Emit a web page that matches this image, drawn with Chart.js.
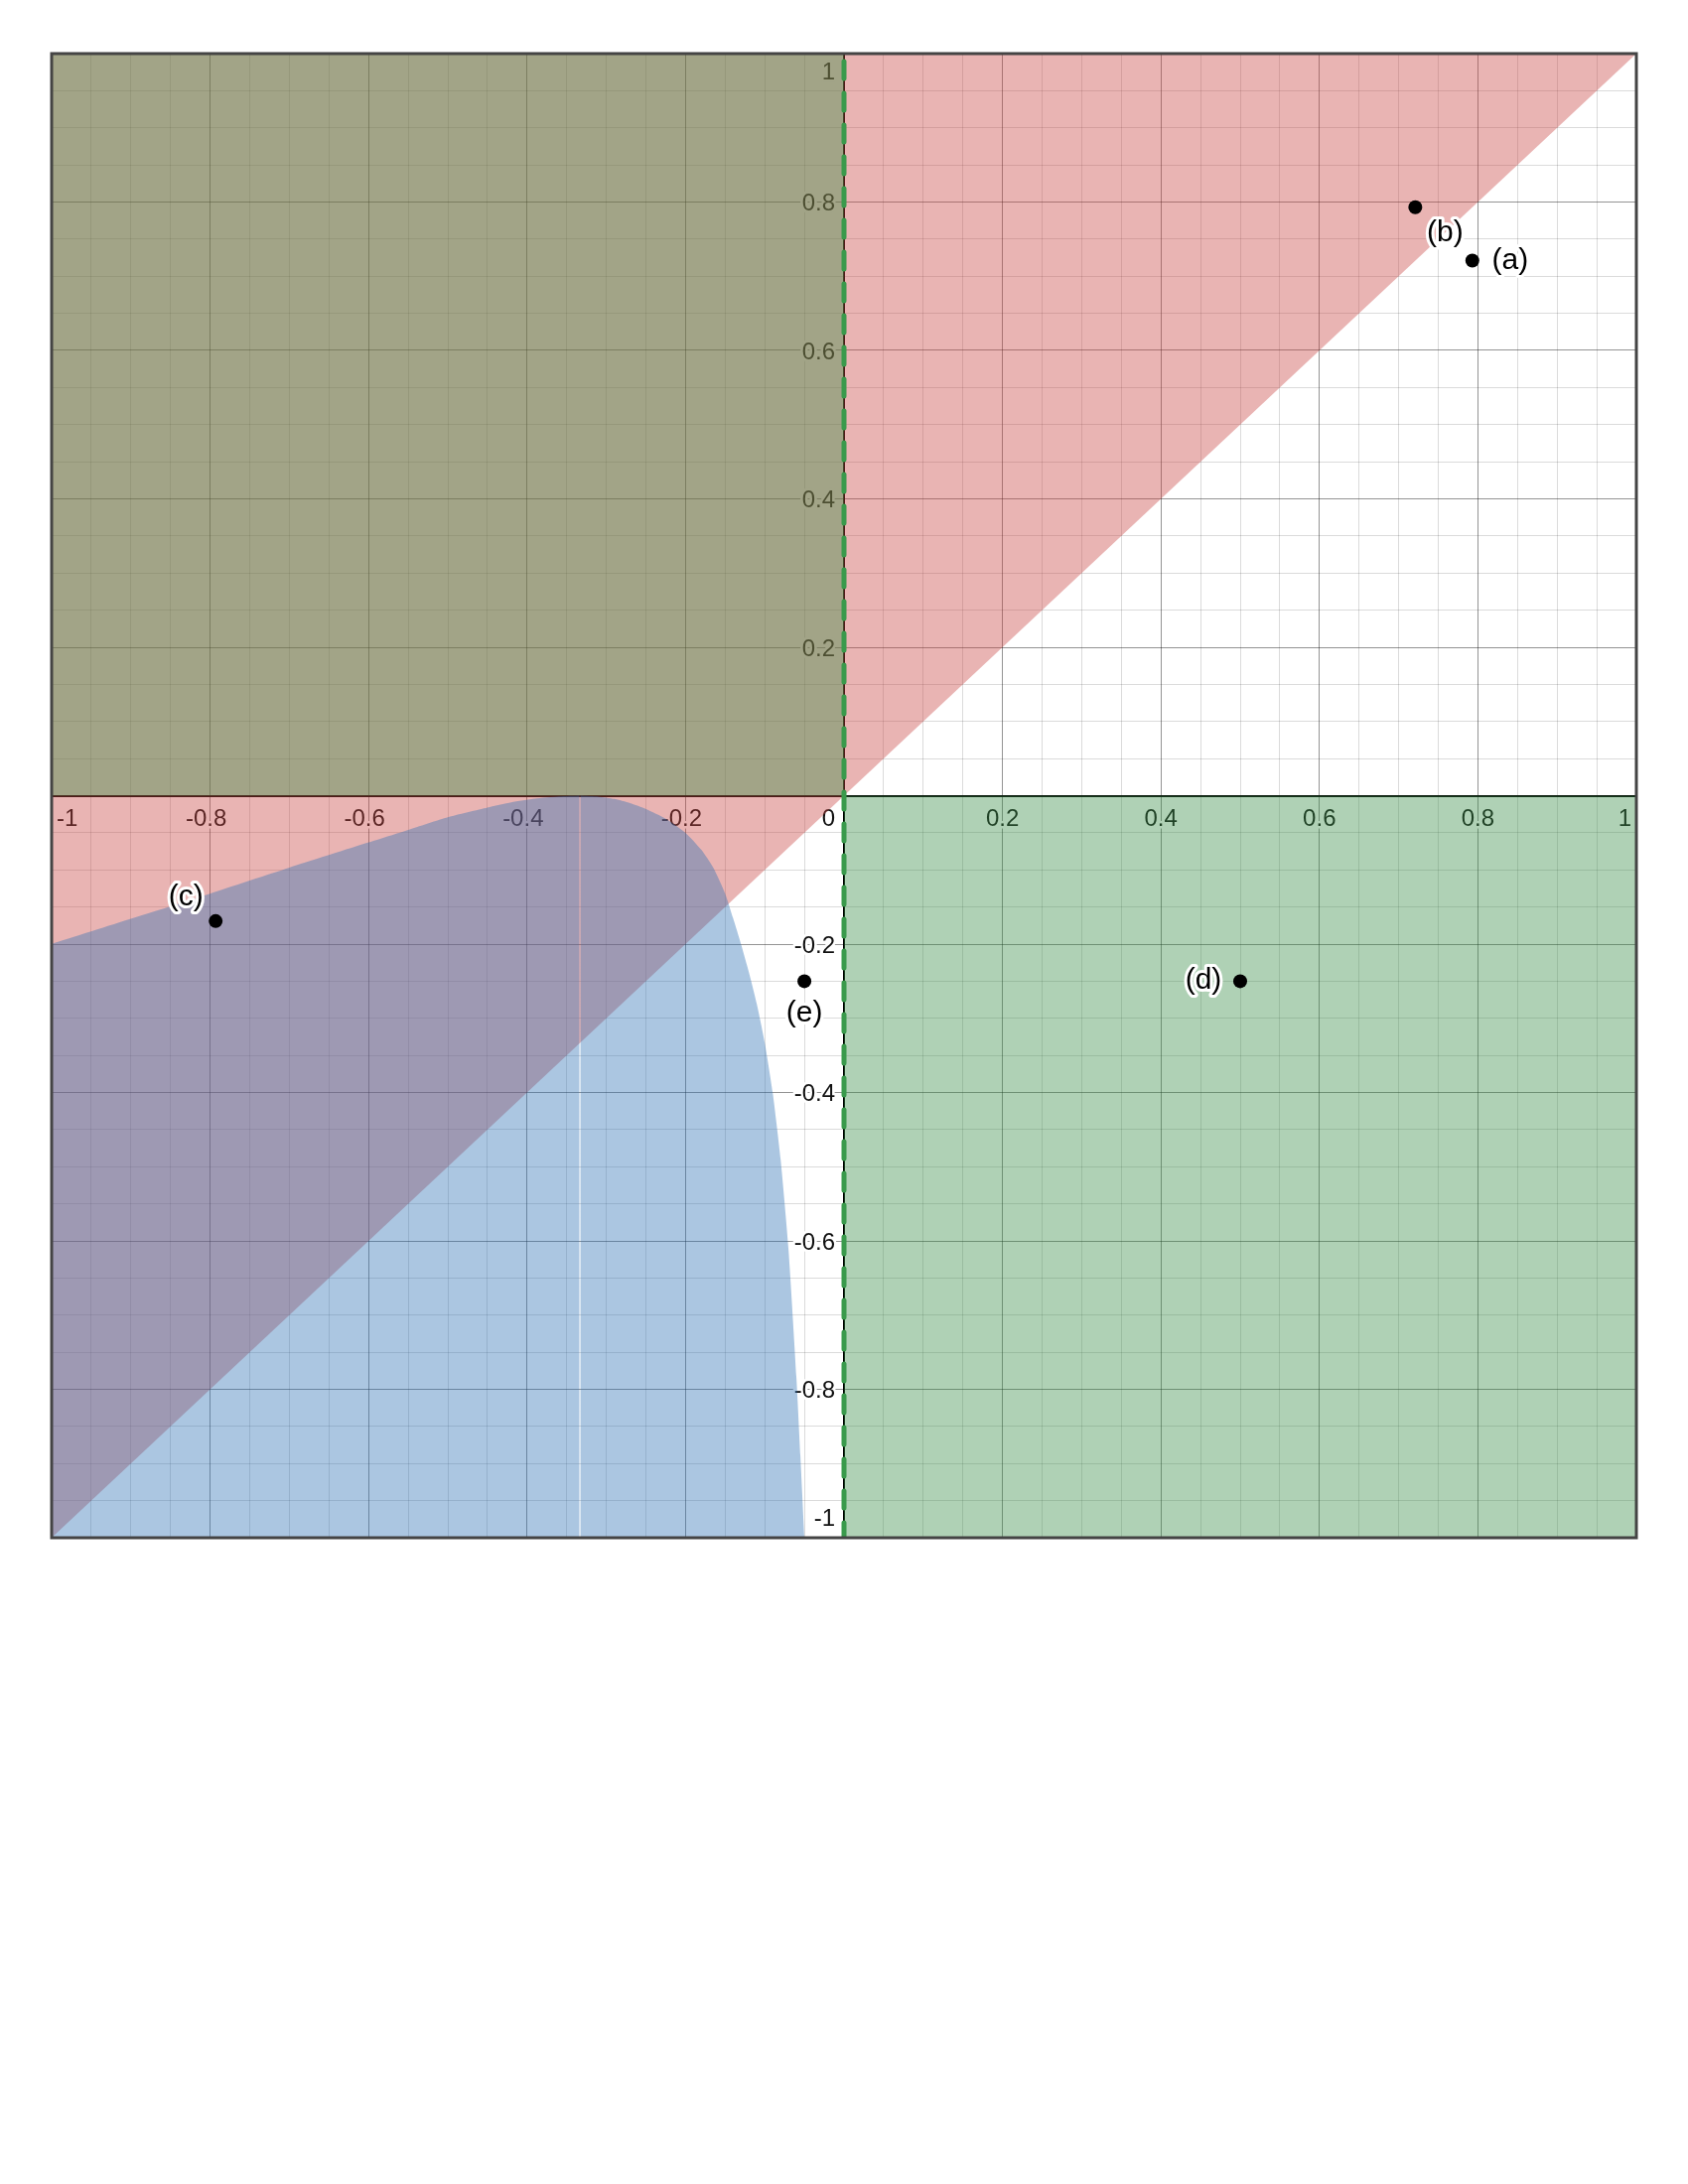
<!DOCTYPE html>
<html><head><meta charset="utf-8">
<script src="https://cdn.jsdelivr.net/npm/chart.js@4.4.1/dist/chart.umd.min.js"></script>
<style>html,body{margin:0;padding:0;background:#fff;}#wrap{width:1700px;height:2200px;}</style>
</head><body><div id="wrap"><canvas id="c" width="1700" height="2200"></canvas></div>
<script>
// ---- data ----
const xTickValues = [-1, -0.8, -0.6, -0.4, -0.2, 0, 0.2, 0.4, 0.6, 0.8, 1];
const xTickLabels = ['-1', '-0.8', '-0.6', '-0.4', '-0.2', '0', '0.2', '0.4', '0.6', '0.8', '1'];
const yTickValues = [1, 0.8, 0.6, 0.4, 0.2, -0.2, -0.4, -0.6, -0.8, -1];
const yTickLabels = ['1', '0.8', '0.6', '0.4', '0.2', '-0.2', '-0.4', '-0.6', '-0.8', '-1'];

// red: region above y = x
const redX = [-1, 1];
const redY = [-1, 1];
// green: x*y < 0 (upper-left quadrant shaded upward, lower-right shaded downward)
const greenUpperX = [-1, 0];
const greenUpperY = [0, 0];
const greenLowerX = [0, 1];
const greenLowerY = [0, 0];
// blue: region below the curve (two pieces meeting at x = -1/3)
const blueLeftX = [-1, -0.9, -0.8, -0.7, -0.6, -0.55, -0.5, -0.45, -0.42, -0.39, -0.36, -0.3337];
const blueLeftY = [-0.2, -0.166, -0.132, -0.097, -0.063, -0.046, -0.029, -0.016, -0.009, -0.004, -0.001, 0];
const blueRightX = [-0.3329, -0.31, -0.29, -0.27, -0.25, -0.225, -0.2, -0.18, -0.165, -0.15, -0.14, -0.13, -0.12, -0.11, -0.1, -0.09, -0.08, -0.07, -0.06, -0.055, -0.05];
const blueRightY = [0, -0.0012, -0.0045, -0.01, -0.018, -0.031, -0.05, -0.073, -0.097, -0.132, -0.165, -0.2, -0.238, -0.281, -0.333, -0.4, -0.49, -0.612, -0.785, -0.89, -1];
// dashed boundary x = 0
const dashX = [0, 0];
const dashY = [1, -1];
// labelled points
const pointNames = ['(a)', '(b)', '(c)', '(d)', '(e)'];
const pointX = [0.793, 0.721, -0.793, 0.5, -0.05];
const pointY = [0.721, 0.793, -0.169, -0.25, -0.25];

// ---- style (label placement relative to the dot, px) ----
const labelDX = [38, 30, -30, -37, 0];
const labelDY = [0, 26, -24, 0, 33];

const mk = (xs, ys) => xs.map((x, i) => ({ x: x, y: ys[i] }));
const RED = 'rgba(199,68,64,0.4)', GREEN = 'rgba(56,140,70,0.4)', BLUE = 'rgba(45,112,179,0.4)';
const area = (data, fill, color, order, tension) => ({
  type: 'line', data: data, fill: fill, backgroundColor: color, borderColor: 'transparent',
  borderWidth: 0, pointRadius: 0, pointHoverRadius: 0, order: order, tension: tension || 0
});

const isZero = v => Math.abs(v) < 1e-9;
const isMajor = v => Math.abs(v / 0.2 - Math.round(v / 0.2)) < 1e-6;
const gridColor = c => isZero(c.tick.value) ? '#000' : (isMajor(c.tick.value) ? 'rgba(0,0,0,0.42)' : 'rgba(0,0,0,0.14)');
const gridWidth = c => isZero(c.tick.value) ? 2 : 1;

const FONT = '"Liberation Sans", Arial, sans-serif';

const deco = {
  id: 'deco',
  beforeDatasetsDraw(chart) {
    const { ctx, chartArea: a, scales: { x, y } } = chart;
    const x0 = x.getPixelForValue(0), y0 = y.getPixelForValue(0);
    ctx.save();
    ctx.font = '24px ' + FONT;
    ctx.lineJoin = 'round';
    ctx.lineWidth = 5;
    ctx.strokeStyle = '#fff';
    ctx.fillStyle = '#111';
    ctx.textBaseline = 'alphabetic';
    const draw = (s, px, py) => { ctx.strokeText(s, px, py); ctx.fillText(s, px, py); };
    xTickValues.forEach((v, i) => {
      const s = xTickLabels[i];
      const base = y0 + 30.5;
      if (isZero(v)) { ctx.textAlign = 'right'; draw(s, x0 - 9, base); return; }
      const abs = s.replace('-', '');
      const wAbs = ctx.measureText(abs).width, w = ctx.measureText(s).width;
      const px = x.getPixelForValue(v);
      let left = px - wAbs / 2 - (w - wAbs);
      left = Math.max(a.left + 5, Math.min(a.right - 5 - w, left));
      ctx.textAlign = 'left';
      draw(s, left, base);
    });
    yTickValues.forEach((v, i) => {
      let base = y.getPixelForValue(v) + 8.5;
      base = Math.max(a.top + 26, Math.min(a.bottom - 12, base));
      ctx.textAlign = 'right';
      draw(yTickLabels[i], x0 - 9, base);
    });
    ctx.restore();
  },
  afterDatasetsDraw(chart) {
    const { ctx } = chart;
    const meta = chart.getDatasetMeta(chart.data.datasets.length - 1);
    ctx.save();
    ctx.font = '30px ' + FONT;
    ctx.textAlign = 'center';
    ctx.textBaseline = 'alphabetic';
    ctx.lineJoin = 'round';
    ctx.lineWidth = 6;
    ctx.strokeStyle = '#fff';
    ctx.fillStyle = '#000';
    meta.data.forEach((el, i) => {
      const px = el.x + labelDX[i], py = el.y + labelDY[i] + 8;
      ctx.strokeText(pointNames[i], px, py);
      ctx.fillText(pointNames[i], px, py);
    });
    ctx.restore();
  },
  afterDraw(chart) {
    const { ctx, chartArea: a } = chart;
    ctx.save();
    ctx.strokeStyle = '#444';
    ctx.lineWidth = 3;
    ctx.strokeRect(a.left, a.top, a.right - a.left, a.bottom - a.top);
    ctx.restore();
  }
};

new Chart(document.getElementById('c'), {
  type: 'line',
  data: {
    datasets: [
      area(mk(redX, redY), 'end', RED, 10),
      area(mk(greenUpperX, greenUpperY), 'end', GREEN, 9),
      area(mk(greenLowerX, greenLowerY), 'start', GREEN, 9),
      area(mk(blueLeftX, blueLeftY), 'start', BLUE, 8, 0.2),
      area(mk(blueRightX, blueRightY), 'start', BLUE, 8, 0.2),
      { type: 'line', data: mk(dashX, dashY), fill: false, borderColor: '#3a9a4c', borderWidth: 5,
        borderDash: [17, 15], borderDashOffset: 24, borderCapStyle: 'round', pointRadius: 0, order: 5 },
      { type: 'line', data: mk(pointX, pointY), showLine: false, fill: false, pointRadius: 7,
        pointBackgroundColor: '#000', pointBorderColor: '#000', pointBorderWidth: 0, order: 1 }
    ]
  },
  options: {
    responsive: false,
    devicePixelRatio: 1,
    animation: false,
    events: [],
    layout: { padding: { left: 52, right: 52, top: 54, bottom: 651 } },
    plugins: { legend: { display: false }, tooltip: { enabled: false } },
    scales: {
      x: {
        type: 'linear', min: -1, max: 1,
        ticks: { display: false, stepSize: 0.05, autoSkip: false, maxTicksLimit: 1000 },
        grid: { color: gridColor, lineWidth: gridWidth, drawTicks: false },
        border: { display: false },
        afterFit: s => { s.height = 0; s.paddingTop = 0; s.paddingBottom = 0; }
      },
      y: {
        type: 'linear', min: -1, max: 1,
        ticks: { display: false, stepSize: 0.05, autoSkip: false, maxTicksLimit: 1000 },
        grid: { color: gridColor, lineWidth: gridWidth, drawTicks: false },
        border: { display: false },
        afterFit: s => { s.width = 0; s.paddingLeft = 0; s.paddingRight = 0; }
      }
    }
  },
  plugins: [deco]
});
</script>
</body></html>
